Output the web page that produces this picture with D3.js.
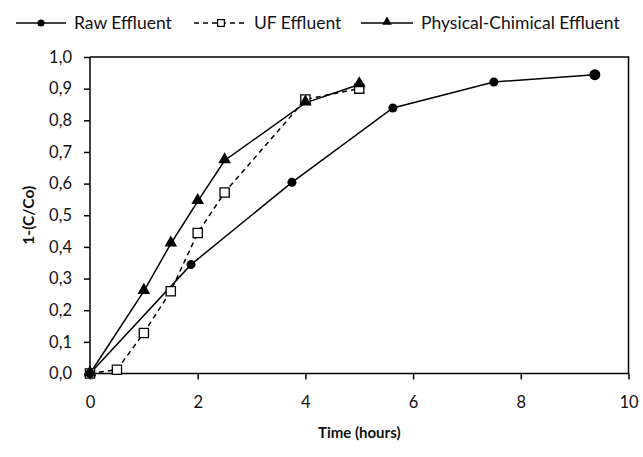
<!DOCTYPE html>
<html><head><meta charset="utf-8">
<script src="https://cdn.jsdelivr.net/npm/d3@7"></script>
<style>body{margin:0;background:#fff}svg{display:block}text{font-family:Lato,"Open Sans",sans-serif}</style>
</head><body>
<script>
const rawT = [0, 1.875, 3.75, 5.625, 7.5, 9.375];
const rawY = [0, 0.344, 0.604, 0.839, 0.921, 0.944];
const ufT = [0, 0.5, 1, 1.5, 2, 2.5, 4, 5];
const ufY = [0, 0.012, 0.128, 0.26, 0.444, 0.572, 0.866, 0.9];
const pcT = [0, 1, 1.5, 2, 2.5, 4, 5];
const pcY = [0, 0.26, 0.41, 0.544, 0.673, 0.855, 0.913];
const xTicks = [0, 2, 4, 6, 8, 10];
const yTicks = [0, 0.1, 0.2, 0.3, 0.4, 0.5, 0.6, 0.7, 0.8, 0.9, 1.0];
const seriesNames = ["Raw Effluent", "UF Effluent", "Physical-Chimical Effluent"];

const W = 643, H = 457;
const svg = d3.select("body").append("svg").attr("width", W).attr("height", H);
const x = d3.scaleLinear().domain([0, 10]).range([90, 628.5]);
const y = d3.scaleLinear().domain([0, 1]).range([373.5, 57]);

svg.append("path").attr("d", `M${x(0)},${y(1)}H${x(10)}V${y(0)}`)
  .attr("fill", "none").attr("stroke", "#000").attr("stroke-width", 1.5);

const fmt = d => d3.format(".1f")(d).replace(".", ",");
const yAx = svg.append("g").attr("transform", `translate(${x(0)},0)`)
  .call(d3.axisLeft(y).tickValues(yTicks).tickFormat(fmt).tickSize(6).tickPadding(12));
const xAx = svg.append("g").attr("transform", `translate(0,${y(0)})`)
  .call(d3.axisBottom(x).tickValues(xTicks).tickFormat(d3.format("d")).tickSize(6).tickPadding(17));
[yAx, xAx].forEach(g => {
  g.select(".domain").attr("stroke-width", 1.5);
  g.selectAll(".tick line").attr("stroke-width", 1.5);
  g.selectAll("text").attr("font-size", 16.5).attr("fill", "#111").attr("font-family", "Lato, 'Open Sans', sans-serif");
});
xAx.select(".domain").attr("d", `M${x(0)},0H${x(10)}`);
yAx.select(".domain").attr("d", `M0,${y(0)}V${y(1)}`);

svg.append("text").attr("x", (x(0) + x(10)) / 2).attr("y", 438).attr("text-anchor", "middle")
  .attr("font-size", 15).attr("font-weight", "bold").attr("fill", "#111").text("Time (hours)");
svg.append("text").attr("transform", `translate(34,${(y(0) + y(1)) / 2}) rotate(-90)`).attr("text-anchor", "middle")
  .attr("font-size", 15.5).attr("font-weight", "bold").attr("fill", "#111").text("1-(C/Co)");

const line = d3.line().x(d => x(d[0])).y(d => y(d[1]));
const zip = (a, b) => a.map((v, i) => [v, b[i]]);
const raw = zip(rawT, rawY), uf = zip(ufT, ufY), pc = zip(pcT, pcY);

svg.append("path").datum(raw).attr("d", line).attr("fill", "none").attr("stroke", "#000").attr("stroke-width", 1.5);
svg.append("path").datum(pc).attr("d", line).attr("fill", "none").attr("stroke", "#000").attr("stroke-width", 1.5);
svg.append("path").datum(uf).attr("d", line).attr("fill", "none").attr("stroke", "#000").attr("stroke-width", 1.5).attr("stroke-dasharray", "5,4");

const sq = d3.symbol().type(d3.symbolSquare).size(85);
const tri = d3.symbol().type(d3.symbolTriangle).size(70);

svg.append("g").selectAll("path").data(uf).join("path").attr("d", sq)
  .attr("transform", d => `translate(${x(d[0])},${y(d[1])})`)
  .attr("fill", "#fff").attr("stroke", "#000").attr("stroke-width", 1.3);
svg.append("g").selectAll("path").data(pc).join("path").attr("d", tri)
  .attr("transform", d => `translate(${x(d[0])},${y(d[1]) - 1})`).attr("fill", "#000");
svg.append("g").selectAll("circle").data(raw).join("circle")
  .attr("cx", d => x(d[0])).attr("cy", d => y(d[1])).attr("r", (d, i) => i === raw.length - 1 ? 5.5 : 4.5).attr("fill", "#000");

// legend
const ly = 23;
const lg = svg.append("g");
const lfs = 17.5;
lg.append("line").attr("x1", 16).attr("x2", 66).attr("y1", ly).attr("y2", ly).attr("stroke", "#000").attr("stroke-width", 1.5);
lg.append("circle").attr("cx", 41).attr("cy", ly).attr("r", 3.5).attr("fill", "#000");
lg.append("text").attr("x", 74).attr("y", ly + 6).attr("font-size", lfs).attr("fill", "#111").text(seriesNames[0]);
lg.append("line").attr("x1", 194).attr("x2", 244).attr("y1", ly).attr("y2", ly).attr("stroke", "#000").attr("stroke-width", 1.5).attr("stroke-dasharray", "5,4");
lg.append("path").attr("d", d3.symbol().type(d3.symbolSquare).size(45)).attr("transform", `translate(221,${ly})`)
  .attr("fill", "#fff").attr("stroke", "#000").attr("stroke-width", 1.2);
lg.append("text").attr("x", 254).attr("y", ly + 6).attr("font-size", lfs).attr("fill", "#111").text(seriesNames[1]);
lg.append("line").attr("x1", 361).attr("x2", 413).attr("y1", ly).attr("y2", ly).attr("stroke", "#000").attr("stroke-width", 1.5);
lg.append("path").attr("d", d3.symbol().type(d3.symbolTriangle).size(40)).attr("transform", `translate(387,${ly - 1})`).attr("fill", "#000");
lg.append("text").attr("x", 421).attr("y", ly + 6).attr("font-size", lfs).attr("fill", "#111").text(seriesNames[2]);
</script>
</body></html>
